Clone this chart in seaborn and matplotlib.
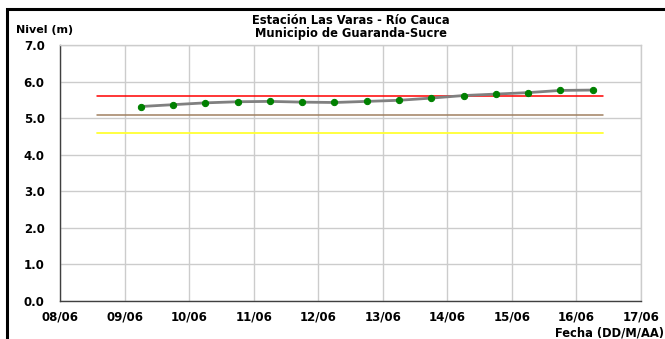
import pandas as pd
import numpy as np
import matplotlib
matplotlib.use("Agg")
import matplotlib.pyplot as plt
import matplotlib.dates as mdates
from matplotlib.patches import Rectangle
import seaborn as sns

# -------------------------------
# Data
# -------------------------------
fechas = ["2011-06-09 06:00", "2011-06-09 18:00", "2011-06-10 06:00", "2011-06-10 18:00",
          "2011-06-11 06:00", "2011-06-11 18:00", "2011-06-12 06:00", "2011-06-12 18:00",
          "2011-06-13 06:00", "2011-06-13 18:00", "2011-06-14 06:00", "2011-06-14 18:00",
          "2011-06-15 06:00", "2011-06-15 18:00", "2011-06-16 06:00"]
nivel = [5.32, 5.37, 5.42, 5.45, 5.46, 5.44, 5.43, 5.46, 5.49, 5.55, 5.62, 5.66, 5.70, 5.76, 5.77]

umbral_fechas = ["2011-06-08 13:40", "2011-06-16 10:00"]
umbral_rojo = 5.6
umbral_marron = 5.1
umbral_amarillo = 4.6

x_min, x_max = "2011-06-08", "2011-06-17"

df = pd.DataFrame({"fecha": pd.to_datetime(fechas), "nivel": nivel})
t_umbral = pd.to_datetime(umbral_fechas)

# -------------------------------
# Plot
# -------------------------------
sns.set_style("white")
plt.rcParams['font.family'] = ['DejaVu Sans']
plt.rcParams['font.weight'] = 'bold'
plt.rcParams['text.color'] = 'black'

fig = plt.figure(figsize=(6.65, 3.39), dpi=100)
ax = fig.add_axes([0.0902, 0.112, 0.8738, 0.755])

ax.grid(True, color="#cccccc", linewidth=1)
ax.set_axisbelow(True)

ax.plot(t_umbral, [umbral_rojo] * 2, color="#ff0000", linewidth=1.1, zorder=2)
ax.plot(t_umbral, [umbral_marron] * 2, color="#a08060", linewidth=1.1, zorder=2)
ax.plot(t_umbral, [umbral_amarillo] * 2, color="#ffff33", linewidth=1.3, zorder=2)

sns.lineplot(data=df, x="fecha", y="nivel", ax=ax, color="#808080", linewidth=2,
             marker="o", markersize=4.5, markerfacecolor="#008000",
             markeredgecolor="#008000", zorder=3)

ax.set_xlim(pd.Timestamp(x_min), pd.Timestamp(x_max))
ax.set_ylim(0, 7)
ax.set_yticks(np.arange(0, 7.1, 1.0))
ax.yaxis.set_major_formatter(plt.FormatStrFormatter("%.1f"))
ax.xaxis.set_major_locator(mdates.DayLocator())
ax.xaxis.set_major_formatter(mdates.DateFormatter("%d/%m"))

ax.tick_params(axis="both", direction="out", length=4, width=1, color="#404040",
               labelsize=8.5, labelcolor="black")
ax.tick_params(axis="x", pad=3)
ax.tick_params(axis="y", pad=7)
for lab in ax.get_xticklabels() + ax.get_yticklabels():
    lab.set_fontweight("bold")

for s in ["left", "bottom"]:
    ax.spines[s].set_color("#404040")
    ax.spines[s].set_linewidth(1)
for s in ["top", "right"]:
    ax.spines[s].set_color("#cccccc")
    ax.spines[s].set_linewidth(1)

ax.set_xlabel("")
ax.set_ylabel("")

fig.text(0.527, 0.921, "Estación Las Varas - Río Cauca\nMunicipio de Guaranda-Sucre",
         ha="center", va="center", fontsize=8.3, fontweight="bold", linespacing=0.95)
fig.text(0.024, 0.912, "Nivel (m)", ha="left", va="center", fontsize=8, fontweight="bold")
fig.text(0.998, 0.018, "Fecha (DD/M/AA)", ha="right", va="center", fontsize=8.3,
         fontweight="bold")

# marco negro del grafico (recortado)
fig.patches.append(Rectangle((7 / 665, -0.1), 1.2, 1.1 - 9 / 339, transform=fig.transFigure,
                             fill=False, edgecolor="black", linewidth=2.2, clip_on=False))

fig.savefig("out.png", dpi=100)
